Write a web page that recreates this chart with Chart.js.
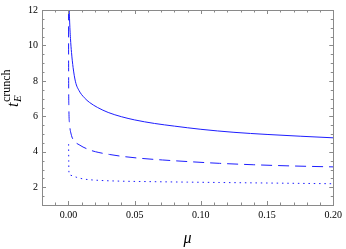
<!DOCTYPE html>
<html><head><meta charset="utf-8">
<script src="https://cdn.jsdelivr.net/npm/chart.js@4/dist/chart.umd.min.js"></script>
<style>html,body{margin:0;padding:0;background:#fff;}canvas{display:block;}</style>
</head><body>
<canvas id="c" width="346" height="249"></canvas>
<script>
// Data
const muSolid   = [0.0001, 0.0004, 0.0008, 0.0015, 0.0023, 0.0035, 0.0053, 0.008, 0.012, 0.016, 0.022, 0.03, 0.04, 0.05, 0.065, 0.08, 0.1, 0.125, 0.15, 0.175, 0.2];
const tSolid    = [14.0,   12.6,   11.5,   10.4,   9.6,    8.75,   7.95,   7.45,  7.05,  6.78,  6.5,   6.22, 5.98, 5.8,  5.6,   5.45, 5.27, 5.1,  4.98, 4.88,  4.79];
const muDashed  = [0.00005, 0.0001, 0.0003, 0.0008, 0.002, 0.0045, 0.008, 0.011, 0.017, 0.023, 0.031, 0.04, 0.055, 0.071, 0.09, 0.114, 0.14, 0.17, 0.2];
const tDashed   = [13.0,    9.0,    6.5,    5.6,    5.0,   4.6,    4.4,   4.27,  4.08,  3.96,  3.85,  3.75, 3.63,  3.54,  3.45, 3.35,  3.27, 3.2,  3.15];
const muDotted  = [0.0001, 0.0002, 0.0004, 0.0015, 0.0058, 0.0105, 0.014, 0.023, 0.037, 0.06, 0.09, 0.114, 0.15, 0.2];
const tDotted   = [4.43,   3.5,    2.8,    2.68,   2.57,   2.48,   2.44,  2.39,  2.35,  2.32, 2.29, 2.27,  2.24, 2.2];
const xTicks = [0, 0.05, 0.10, 0.15, 0.20];
const yTicks = [2, 4, 6, 8, 10, 12];
const xLabels = ['0.00', '0.05', '0.10', '0.15', '0.20'];

const pts = (xs, ys) => xs.map((x, i) => ({x: x, y: ys[i]}));
const BLUE = 'rgb(30,30,255)';
const SERIF = '"Liberation Serif", "DejaVu Serif", serif';

const framePlugin = {
  id: 'frame',
  afterDraw(chart) {
    const {ctx, chartArea: a, scales: {x, y}} = chart;
    ctx.save();
    ctx.strokeStyle = '#8a8a8a';
    ctx.lineWidth = 1;
    ctx.strokeRect(Math.round(a.left) + 0.5, Math.round(a.top) + 0.5, Math.round(a.right - a.left), Math.round(a.bottom - a.top));
    ctx.beginPath();
    for (let k = -2; k <= 20; k++) {
      const v = k / 100;
      const len = (k % 5 === 0) ? 4 : 2.5;
      const px = Math.round(x.getPixelForValue(v)) + 0.5;
      ctx.moveTo(px, a.bottom); ctx.lineTo(px, a.bottom - len);
      ctx.moveTo(px, a.top); ctx.lineTo(px, a.top + len);
    }
    for (let k = 2; k <= 24; k++) {
      const v = k / 2;
      const len = (k % 4 === 0) ? 4 : 2.5;
      const py = Math.round(y.getPixelForValue(v)) + 0.5;
      ctx.moveTo(a.left, py); ctx.lineTo(a.left + len, py);
      ctx.moveTo(a.right, py); ctx.lineTo(a.right - len, py);
    }
    ctx.stroke();

    ctx.fillStyle = '#000';
    ctx.textBaseline = 'alphabetic';
    ctx.font = 'italic 16px ' + SERIF;
    ctx.textAlign = 'center';
    ctx.fillText('μ', (a.left + a.right) / 2, 243);

    ctx.translate(18, 107);
    ctx.rotate(-Math.PI / 2);
    ctx.textAlign = 'left';
    ctx.font = 'italic 16px ' + SERIF;
    ctx.fillText('t', 0, 0);
    const tw = ctx.measureText('t').width;
    ctx.font = 'italic 11px ' + SERIF;
    ctx.fillText('E', tw + 0.5, 3);
    ctx.font = '12px ' + SERIF;
    ctx.fillText('crunch', tw + 0.5, -8);
    ctx.restore();
  }
};

new Chart(document.getElementById('c'), {
  type: 'scatter',
  data: {
    datasets: [
      {data: pts(muSolid, tSolid), showLine: true, borderColor: BLUE, borderWidth: 1, pointRadius: 0, cubicInterpolationMode: 'monotone'},
      {data: pts(muDashed, tDashed), showLine: true, borderColor: BLUE, borderWidth: 1, borderDash: [11, 6], pointRadius: 0, cubicInterpolationMode: 'monotone'},
      {data: pts(muDotted, tDotted), showLine: true, borderColor: BLUE, borderWidth: 1, borderDash: [1.5, 3.8], pointRadius: 0, cubicInterpolationMode: 'monotone'}
    ]
  },
  options: {
    responsive: false,
    animation: false,
    devicePixelRatio: 1,
    layout: {padding: {left: 0, right: 10, top: 6, bottom: 0}},
    plugins: {legend: {display: false}, tooltip: {enabled: false}},
    scales: {
      x: {
        type: 'linear', min: -0.02, max: 0.2,
        grid: {display: false, drawTicks: false}, border: {display: false},
        afterBuildTicks: s => { s.ticks = xTicks.map(v => ({value: v})); },
        afterFit: s => { s.height = 44; },
        ticks: {padding: 4, color: '#000', font: {family: SERIF, size: 10},
                callback: (v, i) => xLabels[i]}
      },
      y: {
        type: 'linear', min: 1, max: 12,
        grid: {display: false, drawTicks: false}, border: {display: false},
        afterBuildTicks: s => { s.ticks = yTicks.map(v => ({value: v})); },
        afterFit: s => { s.width = 42; },
        ticks: {padding: 4, color: '#000', font: {family: SERIF, size: 10}}
      }
    }
  },
  plugins: [framePlugin]
});
</script>
</body></html>
